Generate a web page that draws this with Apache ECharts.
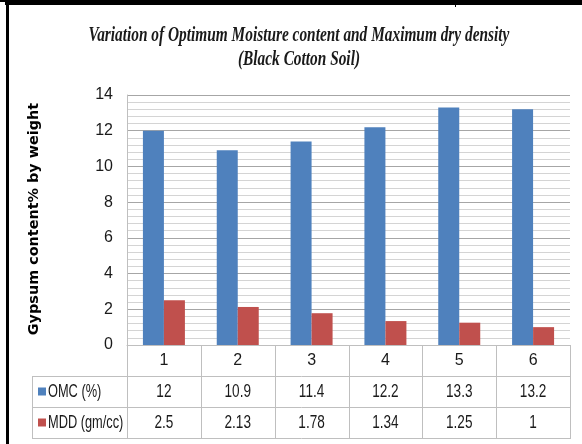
<!DOCTYPE html>
<html><head><meta charset="utf-8">
<script src="https://cdn.jsdelivr.net/npm/echarts@6/dist/echarts.min.js"></script>
<style>html,body{margin:0;padding:0;background:#fff}#c{width:582px;height:444px}</style>
</head><body><div id="c"></div>
<script>
// ---- data ----
const categories = ['1', '2', '3', '4', '5', '6'];
const omcValues = [12, 10.9, 11.4, 12.2, 13.3, 13.2];
const mddValues = [2.5, 2.13, 1.78, 1.34, 1.25, 1];
const seriesNames = ['OMC (%)', 'MDD (gm/cc)'];
const seriesColors = ['#4F81BD', '#C0504D'];
const titleLines = ['Variation of Optimum Moisture content and Maximum dry density', '(Black Cotton Soil)'];
const yAxisTitle = 'Gypsum content% by weight';
const yMin = 0, yMax = 14, yInterval = 2;

// ---- layout ----
const G = { left: 127, right: 570, top: 95, bottom: 345 };
const rowY = [345, 376, 407, 438];
const tableLeft = 32;
const sans = "'Liberation Sans', Arial, sans-serif";

const chart = echarts.init(document.getElementById('c'), null, { renderer: 'canvas' });
chart.setOption({
  backgroundColor: '#fff',
  animation: false,
  grid: { left: G.left, right: 582 - G.right, top: G.top, bottom: 444 - G.bottom, containLabel: false },
  xAxis: {
    type: 'category', data: categories,
    axisLine: { show: true, lineStyle: { color: '#bfbfbf' } },
    axisTick: { show: false },
    axisLabel: { margin: 8, fontFamily: sans, fontSize: 16, color: '#1a1a1a' }
  },
  yAxis: {
    type: 'value', min: yMin, max: yMax, interval: yInterval,
    axisLine: { show: true, lineStyle: { color: '#bfbfbf' } },
    axisTick: { show: false },
    axisLabel: { margin: 14, fontFamily: sans, fontSize: 16, color: '#1a1a1a' },
    splitLine: { show: true, lineStyle: { color: '#a6a6a6', width: 1 } },
    minorSplitLine: { show: true, lineStyle: { color: '#d4d4d4', width: 1 } },
    minorTick: { show: false, splitNumber: 5 }
  },
  series: [
    { type: 'bar', name: seriesNames[0], data: omcValues, barWidth: 21, barGap: '0%',
      itemStyle: { color: seriesColors[0] } },
    { type: 'bar', name: seriesNames[1], data: mddValues, barWidth: 21, barGap: '0%',
      itemStyle: { color: seriesColors[1] } }
  ]
});

// ---- data table and decorations ----
const els = [];
const lineColor = '#bfbfbf';
function hline(x1, x2, y, c, w) { els.push({ type: 'line', shape: { x1, y1: y + 0.5, x2, y2: y + 0.5 }, style: { stroke: c || lineColor, lineWidth: w || 1 }, silent: true }); }
function vline(x, y1, y2, c, w) { els.push({ type: 'line', shape: { x1: x + 0.5, y1, x2: x + 0.5, y2 }, style: { stroke: c || lineColor, lineWidth: w || 1 }, silent: true }); }

hline(G.left, G.right + 1, rowY[0]);
hline(tableLeft, G.right + 1, rowY[1]);
hline(tableLeft, G.right + 1, rowY[2]);
hline(tableLeft, G.right + 1, rowY[3]);
vline(tableLeft, rowY[1], rowY[3]);
const centers = categories.map(c => chart.convertToPixel({ xAxisIndex: 0 }, c));
const step = centers.length > 1 ? centers[1] - centers[0] : (G.right - G.left);
vline(G.left, rowY[0], rowY[3]);
centers.forEach(cx => vline(Math.round(cx + step / 2), rowY[0], rowY[3]));

const rows = [omcValues, mddValues];
rows.forEach((vals, r) => {
  const yc = (rowY[r + 1] + rowY[r + 2]) / 2;
  els.push({ type: 'rect', shape: { x: 38, y: yc - 4, width: 8, height: 8 }, style: { fill: seriesColors[r] }, silent: true });
  els.push({ type: 'text', x: 48, y: yc + 1, scaleX: 0.8, scaleY: 1.1, style: { text: seriesNames[r], font: '16px ' + sans, fill: '#1a1a1a', align: 'left', verticalAlign: 'middle' }, silent: true });
  vals.forEach((v, i) => {
    els.push({ type: 'text', x: centers[i], y: yc + 1, scaleX: 0.85, scaleY: 1.1, style: { text: String(v), font: '16px ' + sans, fill: '#1a1a1a', align: 'center', verticalAlign: 'middle' }, silent: true });
  });
});

titleLines.forEach((t, i) => {
  els.push({ type: 'text', x: 299, y: 36 + i * 24, scaleX: 0.96, scaleY: 1.3, style: { text: t, font: 'italic bold 16px "Liberation Serif", "Times New Roman", serif', fill: '#1a1a1a', align: 'center', verticalAlign: 'middle' }, silent: true });
});
els.push({ type: 'text', x: 35, y: 219, rotation: Math.PI / 2, scaleX: 1.2, scaleY: 1.1, style: { text: yAxisTitle, font: 'bold 12px "DejaVu Sans", sans-serif', fill: '#000', align: 'center', verticalAlign: 'middle' }, silent: true });

els.push({ type: 'rect', shape: { x: 5, y: 0, width: 577, height: 5 }, style: { fill: '#000' }, silent: true });
els.push({ type: 'rect', shape: { x: 0, y: 0, width: 6, height: 2 }, style: { fill: '#000' }, silent: true });
els.push({ type: 'rect', shape: { x: 6, y: 0, width: 3, height: 444 }, style: { fill: '#000' }, silent: true });
els.push({ type: 'rect', shape: { x: 455, y: 5, width: 1, height: 2 }, style: { fill: '#000' }, silent: true });

chart.setOption({ graphic: { elements: els } });
</script>
</body></html>
